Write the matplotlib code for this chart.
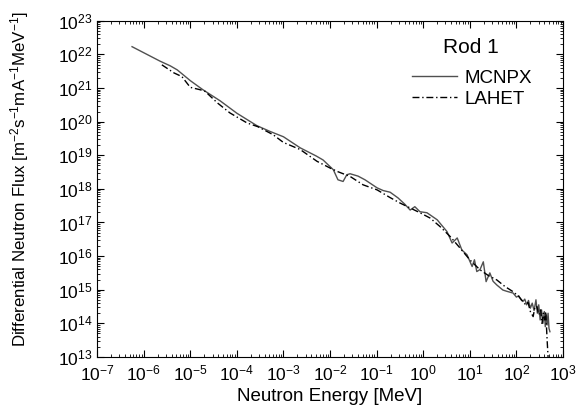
import numpy as np
import matplotlib
matplotlib.use("Agg")
import matplotlib.pyplot as plt

plt.rcParams['font.family'] = ['Liberation Sans', 'DejaVu Sans']
plt.rcParams['mathtext.fontset'] = 'custom'
plt.rcParams['mathtext.rm'] = 'Liberation Sans'
plt.rcParams['mathtext.it'] = 'Liberation Sans:italic'
plt.rcParams['mathtext.default'] = 'regular'

# values, as log10 of energy [MeV] and flux
mcnpx_log_e = [-6.25, -5.65, -5.43, -5.28, -5.0, -4.73, -4.36, -4.0, -3.57, -3.29,
               -3.0, -2.64, -2.3, -2.15, -1.93, -1.83, -1.72, -1.64, -1.57, -1.4,
               -1.25, -0.99, -0.86, -0.71, -0.54, -0.4, -0.28, -0.18, -0.07, 0.08,
               0.3, 0.51, 0.62, 0.73, 0.83, 0.94, 1.05, 1.1, 1.15, 1.22,
               1.29, 1.35, 1.43, 1.5, 1.58, 1.71, 1.8, 1.93, 2.0, 2.05,
               2.1, 2.14, 2.18, 2.22, 2.26, 2.3, 2.34, 2.38, 2.42, 2.45,
               2.48, 2.51, 2.54, 2.57, 2.6, 2.62, 2.64, 2.66, 2.68, 2.7, 2.72]
mcnpx_log_f = [22.23, 21.8, 21.66, 21.54, 21.22, 20.95, 20.62, 20.25, 19.88, 19.71,
               19.55, 19.22, 18.98, 18.86, 18.57, 18.27, 18.22, 18.42, 18.45, 18.38,
               18.27, 18.03, 17.95, 17.9, 17.73, 17.55, 17.37, 17.47, 17.32, 17.29,
               17.08, 16.73, 16.39, 16.54, 16.18, 16.04, 15.69, 15.89, 15.54, 15.6,
               15.83, 15.24, 15.5, 15.25, 15.14, 14.99, 14.95, 14.9, 14.78, 14.82,
               14.7, 14.65, 14.72, 14.55, 14.68, 14.45, 14.6, 14.38, 14.7, 14.3,
               14.55, 14.1, 14.4, 14.0, 14.35, 13.9, 14.25, 13.95, 14.3, 13.85, 13.75]

lahet_log_e = [-5.61, -5.35, -5.18, -5.0, -4.79, -4.68, -4.42, -4.15, -3.78, -3.55,
               -3.22, -3.0, -2.64, -2.28, -2.0, -1.83, -1.57, -1.29, -0.99, -0.71,
               -0.5, -0.07, 0.15, 0.36, 0.58, 0.79, 1.0, 1.22, 1.4, 1.58,
               1.75, 1.93, 2.05, 2.14, 2.2, 2.25, 2.3, 2.36, 2.4, 2.44,
               2.48, 2.52, 2.55, 2.58, 2.61, 2.63, 2.66, 2.68]
lahet_log_f = [21.69, 21.45, 21.34, 21.02, 20.95, 20.9, 20.56, 20.26, 19.96, 19.85,
               19.61, 19.38, 19.17, 18.82, 18.62, 18.51, 18.37, 18.12, 17.97, 17.74,
               17.58, 17.29, 17.13, 16.88, 16.58, 16.24, 15.89, 15.59, 15.42, 15.29,
               15.1, 14.94, 14.8, 14.65, 14.55, 14.62, 14.35, 14.2, 14.5, 14.5,
               14.25, 14.4, 14.0, 14.3, 14.1, 14.35, 13.5, 13.0]

fig = plt.figure(figsize=(5.78, 4.16), dpi=100)
ax = fig.add_axes([0.168, 0.142, 0.806, 0.808])

ax.plot(10 ** np.array(mcnpx_log_e), 10 ** np.array(mcnpx_log_f),
        color='#505050', lw=1.0, ls='-', label='MCNPX')
ax.plot(10 ** np.array(lahet_log_e), 10 ** np.array(lahet_log_f),
        color='black', lw=1.0, ls='-.', dashes=(5, 2, 1, 2), label='LAHET')

ax.set_xscale('log')
ax.set_yscale('log')
ax.set_xlim(1e-7, 1e3)
ax.set_ylim(1e13, 1e23)
ax.set_xticks([10.0 ** k for k in range(-7, 4)])
ax.set_yticks([10.0 ** k for k in range(13, 24)])
ax.xaxis.set_minor_locator(matplotlib.ticker.LogLocator(base=10, subs=np.arange(2, 10), numticks=20))
ax.yaxis.set_minor_locator(matplotlib.ticker.LogLocator(base=10, subs=np.arange(2, 10), numticks=20))
ax.xaxis.set_minor_formatter(matplotlib.ticker.NullFormatter())
ax.yaxis.set_minor_formatter(matplotlib.ticker.NullFormatter())

ax.tick_params(which='both', direction='in', top=True, right=True, labelsize=12.5)
ax.tick_params(which='major', length=5, width=0.8)
ax.tick_params(which='minor', length=2.5, width=0.6)
ax.tick_params(axis='x', pad=5)

ax.set_xlabel('Neutron Energy [MeV]', fontsize=13.5, labelpad=3)
ax.set_ylabel('Differential Neutron Flux [m$^{-2}$s$^{-1}$mA$^{-1}$MeV$^{-1}$]',
              fontsize=12.2)
ax.yaxis.set_label_coords(-0.142, 0.53)

# legend title drawn on its own so its gap to the entries matches
ax.text(0.803, 0.922, 'Rod 1', transform=ax.transAxes, fontsize=15,
        ha='center', va='center')
leg = ax.legend(loc='upper left', bbox_to_anchor=(0.64, 0.905),
                frameon=False, fontsize=13.5,
                handlelength=2.4, handletextpad=0.4, labelspacing=0.2)

fig.savefig('out.png', dpi=100)
